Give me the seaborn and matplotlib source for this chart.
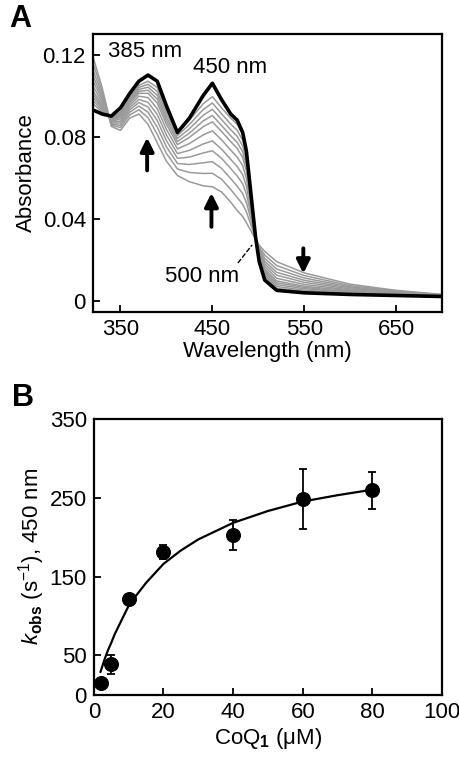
import numpy as np
import pandas as pd
import seaborn as sns
import matplotlib
matplotlib.use("Agg")
import matplotlib.pyplot as plt

# ---- panel A: spectra ----
wavelength = [320, 330, 340, 350, 360, 370, 380, 390, 400, 412, 425, 440, 450, 460,
              470, 477, 483, 487, 492, 497, 501, 507, 520, 550, 600, 650, 700]

spec_final = [0.093, 0.091, 0.090, 0.094, 0.101, 0.107, 0.110, 0.107, 0.095, 0.082, 0.089, 0.100, 0.106, 0.098,
              0.091, 0.088, 0.082, 0.073, 0.052, 0.031, 0.019, 0.010, 0.005, 0.0038, 0.003, 0.0025, 0.002]

spec_01 = [0.119, 0.104, 0.085, 0.083, 0.089, 0.091, 0.086, 0.077, 0.068, 0.061, 0.058, 0.056, 0.0555, 0.053,
           0.048, 0.044, 0.041, 0.038, 0.034, 0.030, 0.027, 0.024, 0.019, 0.0135, 0.008, 0.005, 0.003]
spec_02 = [0.116, 0.102, 0.0856, 0.0844, 0.0905, 0.0931, 0.0892, 0.0811, 0.0718, 0.0642, 0.0625, 0.062, 0.0621, 0.0592,
           0.0542, 0.0503, 0.047, 0.0433, 0.037, 0.0303, 0.0261, 0.0222, 0.0171, 0.0122, 0.0073, 0.0047, 0.0029]
spec_03 = [0.1126, 0.1006, 0.0861, 0.0855, 0.0918, 0.0949, 0.0919, 0.0846, 0.075, 0.0669, 0.0664, 0.0672, 0.0678, 0.0645,
           0.0595, 0.0558, 0.0522, 0.0478, 0.0396, 0.0306, 0.0253, 0.0206, 0.0154, 0.011, 0.0067, 0.0044, 0.0028]
spec_04 = [0.1098, 0.0992, 0.0866, 0.0866, 0.093, 0.0966, 0.0944, 0.0878, 0.078, 0.0694, 0.070, 0.072, 0.0731, 0.0694,
           0.0644, 0.0608, 0.057, 0.052, 0.042, 0.0308, 0.0246, 0.0192, 0.0138, 0.0099, 0.0062, 0.0042, 0.0027]
spec_05 = [0.1073, 0.0979, 0.087, 0.0876, 0.0941, 0.0981, 0.0967, 0.0908, 0.0808, 0.0717, 0.0733, 0.0764, 0.0779, 0.0739,
           0.0689, 0.0654, 0.0614, 0.0559, 0.0442, 0.031, 0.0239, 0.0179, 0.0124, 0.0089, 0.0057, 0.004, 0.0026]
spec_06 = [0.1047, 0.0966, 0.0875, 0.0886, 0.0952, 0.0997, 0.099, 0.0937, 0.0835, 0.074, 0.0766, 0.0808, 0.0828, 0.0784,
           0.0734, 0.070, 0.0658, 0.0597, 0.0464, 0.0312, 0.0233, 0.0166, 0.0109, 0.0079, 0.0052, 0.0038, 0.0025]
spec_07 = [0.1024, 0.0954, 0.0879, 0.0895, 0.0962, 0.1011, 0.1011, 0.0964, 0.086, 0.0761, 0.0796, 0.0848, 0.0872, 0.0825,
           0.0775, 0.0742, 0.0698, 0.0632, 0.0484, 0.0314, 0.0227, 0.0154, 0.0096, 0.007, 0.0048, 0.0036, 0.0024]
spec_08 = [0.1008, 0.0945, 0.0882, 0.0901, 0.0969, 0.1021, 0.1026, 0.0983, 0.0878, 0.0776, 0.0817, 0.0876, 0.0903, 0.0854,
           0.0804, 0.0772, 0.0726, 0.0657, 0.0498, 0.0316, 0.0223, 0.0145, 0.0087, 0.0064, 0.0044, 0.0034, 0.0024]
spec_09 = [0.0992, 0.0937, 0.0884, 0.0907, 0.0976, 0.103, 0.1041, 0.1002, 0.0895, 0.0791, 0.0838, 0.0904, 0.0933, 0.0883,
           0.0833, 0.0801, 0.0754, 0.0681, 0.0512, 0.0317, 0.0218, 0.0137, 0.0078, 0.0058, 0.0041, 0.0033, 0.0023]
spec_10 = [0.0976, 0.0928, 0.0887, 0.0914, 0.0983, 0.104, 0.1055, 0.1021, 0.0913, 0.0805, 0.0859, 0.0932, 0.0964, 0.0911,
           0.0861, 0.0831, 0.0782, 0.0706, 0.0526, 0.0319, 0.0214, 0.0128, 0.0069, 0.0051, 0.0038, 0.0031, 0.0023]
spec_11 = [0.096, 0.092, 0.089, 0.092, 0.099, 0.105, 0.107, 0.104, 0.093, 0.082, 0.088, 0.096, 0.0995, 0.094,
           0.089, 0.086, 0.081, 0.073, 0.054, 0.032, 0.021, 0.012, 0.006, 0.0045, 0.0035, 0.003, 0.0022]

gray_spectra = [spec_01, spec_02, spec_03, spec_04, spec_05, spec_06,
                spec_07, spec_08, spec_09, spec_10, spec_11]

# ---- panel B: kobs vs CoQ1 ----
coq1 = [2, 5, 10, 20, 40, 60, 80]
kobs = [15, 39, 121, 181, 203, 248, 259]
kobs_err = [3, 12, 6, 9, 19, 38, 23]

fit_x = [1.9, 3, 4, 5, 6, 8, 10, 12, 15, 20, 25, 30, 40, 50, 60, 70, 80]
fit_y = [29, 44, 56, 66, 77, 95, 113, 125, 142, 166, 183, 197, 218, 233, 245, 253, 260]

# ---- style ----
sns.set_style("ticks")
plt.rcParams['font.family'] = ['Liberation Sans', 'DejaVu Sans']
plt.rcParams['mathtext.fontset'] = 'custom'
plt.rcParams['mathtext.rm'] = 'Liberation Sans'
plt.rcParams['mathtext.it'] = 'Liberation Sans:italic'
plt.rcParams['mathtext.bf'] = 'Liberation Sans:bold'
plt.rcParams['xtick.direction'] = 'in'
plt.rcParams['ytick.direction'] = 'in'
for key in ['text.color', 'axes.labelcolor', 'xtick.color', 'ytick.color', 'axes.edgecolor']:
    plt.rcParams[key] = 'black'

fig = plt.figure(figsize=(4.6, 7.57), dpi=100)
axA = fig.add_axes([0.202, 0.588, 0.759, 0.367])
axB = fig.add_axes([0.204, 0.082, 0.757, 0.365])

# panel A
rows = []
for i, s in enumerate(gray_spectra):
    for w, a in zip(wavelength, s):
        rows.append({'wl': w, 'abs': a, 'trace': f'g{i:02d}'})
df_gray = pd.DataFrame(rows)
sns.lineplot(data=df_gray, x='wl', y='abs', hue='trace', units='trace', estimator=None,
             palette=['#9a9a9a'] * len(gray_spectra), linewidth=1.1, legend=False, ax=axA)
sns.lineplot(x=wavelength, y=spec_final, color='black', linewidth=2.6, ax=axA)

axA.set_xlim(320, 700)
axA.set_ylim(-0.0055, 0.130)
axA.set_xticks([350, 450, 550, 650])
axA.set_yticks([0, 0.04, 0.08, 0.12])
axA.set_yticklabels(['0', '0.04', '0.08', '0.12'])
axA.set_xlabel('Wavelength (nm)', fontsize=16, labelpad=1)
axA.set_ylabel('Absorbance', fontsize=16, labelpad=4)

axA.text(377, 0.1215, '385 nm', fontsize=16, ha='center', va='center')
axA.text(469, 0.1135, '450 nm', fontsize=16, ha='center', va='center')

# isosbestic point label with dashed leader
iso_wl, iso_abs = 493, 0.027
axA.annotate('500 nm', xy=(iso_wl, iso_abs), xytext=(439, 0.0118), fontsize=16,
             ha='center', va='center',
             arrowprops=dict(arrowstyle='-', linestyle=(0, (3, 2)), lw=1.0, color='black',
                             shrinkA=0, shrinkB=0, relpos=(0.95, 1.0)))

# arrows showing direction of change
arrow_wl = [379, 449, 549]
arrow_from = [0.0635, 0.0360, 0.0255]
arrow_to = [0.0795, 0.0525, 0.0132]
for w, a0, a1 in zip(arrow_wl, arrow_from, arrow_to):
    axA.annotate('', xy=(w, a1), xytext=(w, a0),
                 arrowprops=dict(arrowstyle='-|>,head_length=0.8,head_width=0.4',
                                 lw=2.8, color='black', shrinkA=0, shrinkB=0))

# panel B
sns.lineplot(x=fit_x, y=fit_y, color='black', linewidth=1.6, ax=axB)
axB.errorbar(coq1, kobs, yerr=kobs_err, fmt='none', ecolor='black', elinewidth=1.3,
             capsize=3, capthick=1.3)
sns.scatterplot(x=coq1, y=kobs, color='black', s=100, edgecolor='black', zorder=5, ax=axB)

axB.set_xlim(0, 100)
axB.set_ylim(0, 350)
axB.set_xticks([0, 20, 40, 60, 80, 100])
axB.set_yticks([0, 50, 150, 250, 350])
axB.set_xlabel('CoQ$_{\\mathbf{1}}$ (μM)', fontsize=16, labelpad=2)
axB.set_ylabel(r'$\mathit{k}_{\mathbf{obs}}$ (s$^{\mathdefault{-1}}$), 450 nm', fontsize=16, labelpad=2)

for ax in (axA, axB):
    for sp in ax.spines.values():
        sp.set_linewidth(1.6)
        sp.set_visible(True)
    ax.tick_params(axis='both', labelsize=16, length=5, width=1.3, pad=5)

fig.text(0.02, 0.975, 'A', fontsize=22, fontweight='bold', va='center')
fig.text(0.025, 0.474, 'B', fontsize=22, fontweight='bold', va='center')

fig.savefig('out.png', dpi=100)
